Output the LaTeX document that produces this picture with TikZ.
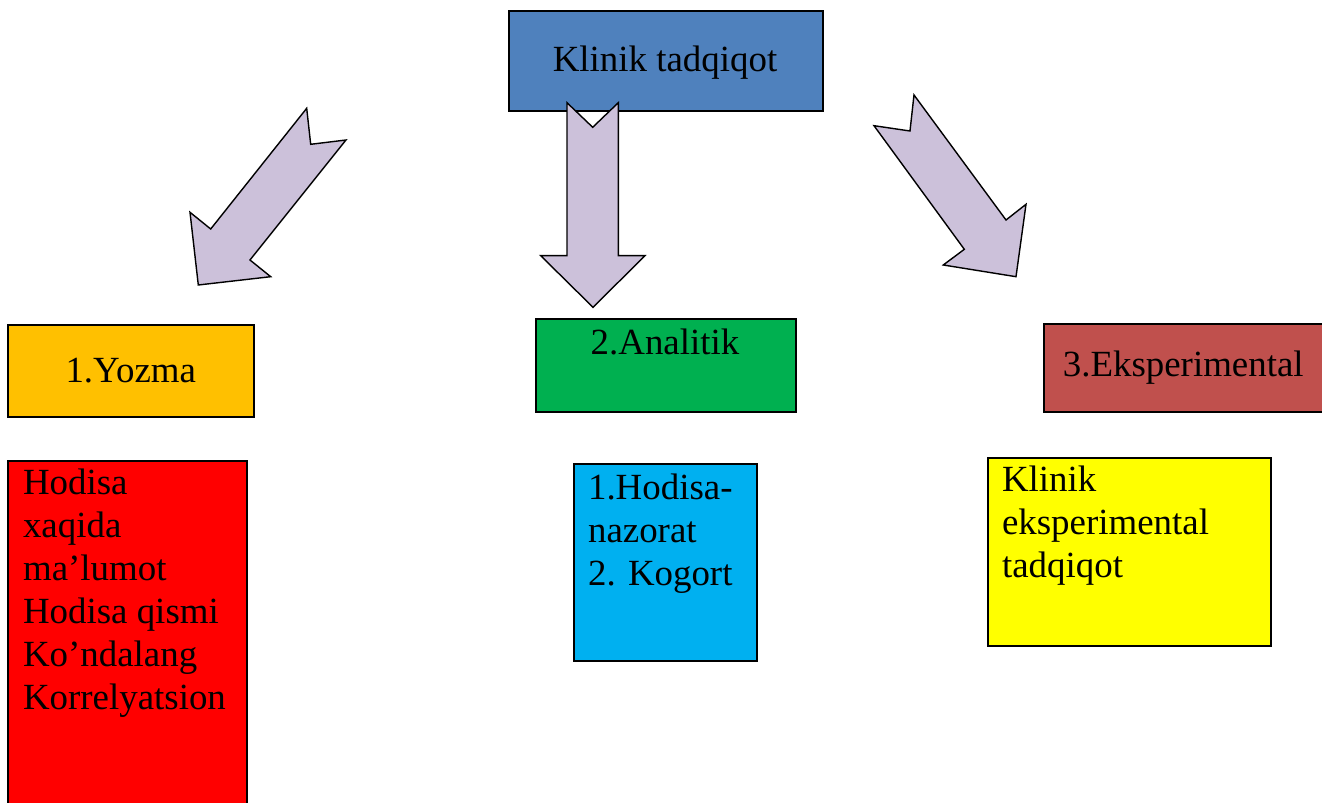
\documentclass[tikz,border=0pt]{standalone}
\usepackage{fontspec}
\setmainfont{Liberation Serif}
\usetikzlibrary{positioning}

\definecolor{topblue}{HTML}{4F81BD}
\definecolor{yozmaorange}{HTML}{FFC000}
\definecolor{analitgreen}{HTML}{00B050}
\definecolor{eksbrown}{HTML}{C0504D}
\definecolor{hodisared}{HTML}{FF0000}
\definecolor{kogortcyan}{HTML}{00B0F0}
\definecolor{klinyellow}{HTML}{FFFF00}
\definecolor{arrowlilac}{HTML}{CCC1DA}

\begin{document}
\begin{tikzpicture}
[
  x=0.02cm, y=-0.02cm,
  box/.style={draw=black, line width=0.9pt, rectangle, inner sep=0pt,
    font=\fontsize{21}{24.4}\selectfont},
  boxtext/.style={inner sep=0pt, align=left, anchor=north west,
    font=\fontsize{21}{24.4}\selectfont},
  fatarrow/.style={draw=black, line width=0.8pt, fill=arrowlilac, line join=miter}
]

\useasboundingbox (0,0) rectangle (1322,803);

% top box
\node (root) [box, fill=topblue, minimum width=6.28cm, minimum height=2cm,
  anchor=north west] at (508,10) {};
\node (roottext) [anchor=base, inner sep=0pt, font=\fontsize{21}{24.4}\selectfont]
  at (665,72) {Klinik tadqiqot};

% three kinds
\node (yozma) [box, fill=yozmaorange, minimum width=4.92cm, minimum height=1.84cm,
  anchor=north west] at (7,324) {1.Yozma};
\node (analit) [box, fill=analitgreen, minimum width=5.2cm, minimum height=1.86cm,
  anchor=north west] at (535,318) {};
\node (analittext) [anchor=base, inner sep=0pt, font=\fontsize{21}{24.4}\selectfont]
  at (665,355) {2.Analitik};
\node (eksper) [box, fill=eksbrown, minimum width=5.58cm, minimum height=1.76cm,
  anchor=north west] at (1043,323) {3.Eksperimental};

% lower boxes
\node (hodisa) [box, fill=hodisared, minimum width=4.78cm, minimum height=7cm,
  anchor=north west] at (7,460) {};
\node (hodisatext) [boxtext] at (22.7,469) {Hodisa\\xaqida\\ma’lumot\\Hodisa qismi\\Ko’ndalang\\Korrelyatsion};

\node (kogort) [box, fill=kogortcyan, minimum width=3.67cm, minimum height=3.95cm,
  anchor=north west] at (573,463) {};
\node (kogorttext) [boxtext] at (587.7,474) {1.Hodisa-\\nazorat\\2. Kogort};

\node (klinik) [box, fill=klinyellow, minimum width=5.66cm, minimum height=3.76cm,
  anchor=north west] at (987,457) {};
\node (kliniktext) [boxtext] at (1001.7,466) {Klinik\\eksperimental\\tadqiqot};

% block arrows
\draw[fatarrow] (306.7,108.3) -- (210.7,229) -- (190,212.3) -- (198.3,285)
  -- (270.7,276.7) -- (250,260) -- (346,140) -- (310.7,144.3) -- cycle;
\draw[fatarrow] (567,102.7) -- (592.7,127.3) -- (618.3,102.7) -- (618.3,255.7)
  -- (645,255.7) -- (593,307.3) -- (540.7,255.7) -- (567,255.7) -- cycle;
\draw[fatarrow] (914,95) -- (1006,220) -- (1026,204.3) -- (1016,276.7)
  -- (943.3,265) -- (964.3,249.3) -- (874,125.7) -- (910,131) -- cycle;
\end{tikzpicture}
\end{document}
